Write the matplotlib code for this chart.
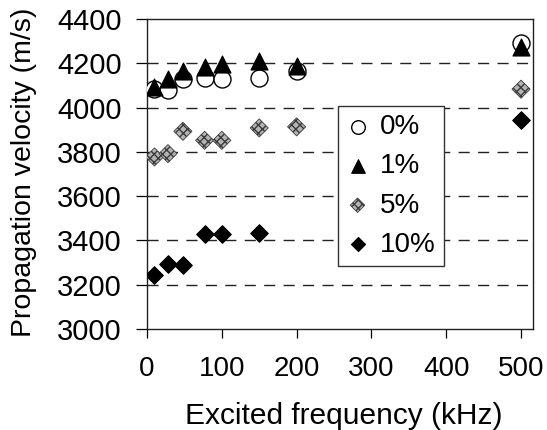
import matplotlib
matplotlib.use("Agg")
import matplotlib.pyplot as plt

plt.rcParams['font.family'] = ['Liberation Sans', 'DejaVu Sans']

freq = [10, 28, 48, 77, 100, 150, 200, 500]
freq10 = [10, 28, 48, 77, 100, 150, 500]
v0 = [4082, 4079, 4127, 4134, 4128, 4134, 4166, 4290]
v1 = [4091, 4127, 4165, 4184, 4199, 4210, 4189, 4272]
v5 = [3777, 3792, 3893, 3852, 3852, 3908, 3913, 4083]
v10 = [3246, 3294, 3287, 3427, 3427, 3435, 3943]
labels = ['0%', '1%', '5%', '10%']
xticks = [0, 100, 200, 300, 400, 500]
yticks = [3000, 3200, 3400, 3600, 3800, 4000, 4200, 4400]

fig = plt.figure(figsize=(5.47, 4.30), dpi=100)
ax = fig.add_axes([147/547, 1-329/430, (533-147)/547, (329-19)/430])

for y in yticks[1:-1]:
    ax.axhline(y, color='#222222', lw=1.0, dashes=(8, 6), zorder=1)

h0 = ax.scatter(freq, v0, s=150, marker='o', facecolor='white', edgecolor='black', linewidths=1.0, zorder=3, label=labels[0])
h1 = ax.scatter(freq, v1, s=150, marker='^', facecolor='black', edgecolor='black', linewidths=0.8, zorder=4, label=labels[1])
h5 = ax.scatter(freq, v5, s=85, marker='D', facecolor='#b4b4b4', edgecolor='#3a3a3a', hatch='xxxx', linewidths=0.6, zorder=3, label=labels[2])
h10 = ax.scatter(freq10, v10, s=80, marker='D', facecolor='black', edgecolor='black', linewidths=0.8, zorder=3, label=labels[3])

ax.set_xlim(0, 516)
ax.set_ylim(3000, 4400)
ax.set_xticks(xticks)
ax.set_yticks(yticks)
ax.tick_params(axis='y', direction='out', length=8, width=0.9, pad=10, labelsize=21, colors='black')
ax.tick_params(axis='x', direction='out', length=6.5, width=0.9, pad=13, labelsize=20, colors='black')

for sp in ax.spines.values():
    sp.set_color('#222222')
    sp.set_linewidth(1.0)

ax.set_ylabel('Propagation velocity (m/s)', fontsize=20.5)
ax.yaxis.set_label_coords(-0.285, 0.506)
ax.set_xlabel('Excited frequency (kHz)', fontsize=21.5)
ax.xaxis.set_label_coords(0.51, -0.235)

leg = ax.legend(handles=[h0, h1, h5, h10], loc='upper left', bbox_to_anchor=(0.495, 0.719),
                fontsize=20, frameon=True, fancybox=False, framealpha=1, edgecolor='#333333',
                markerscale=0.8, handlelength=0.8, handletextpad=0.4, labelspacing=0.47,
                borderpad=0.3, borderaxespad=0)
leg.get_frame().set_linewidth(1.0)

fig.savefig('out.png', dpi=100)
